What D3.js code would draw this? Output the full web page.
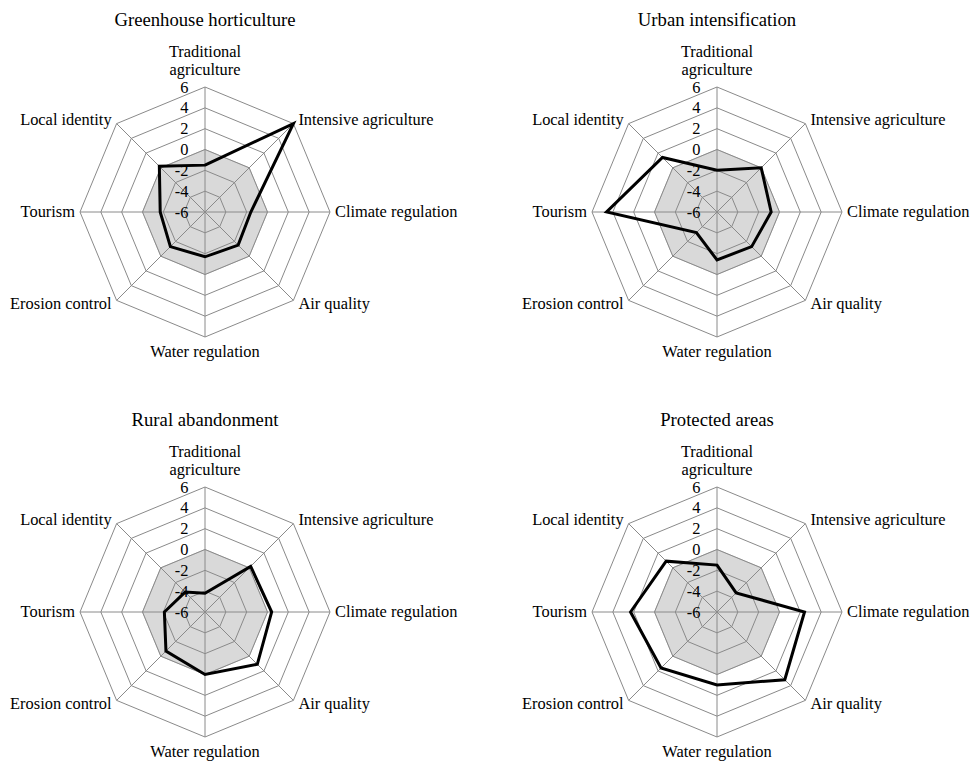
<!DOCTYPE html>
<html>
<head>
<meta charset="utf-8">
<script src="https://cdn.jsdelivr.net/npm/d3@7"></script>
<style>
  html, body { margin: 0; padding: 0; background: #fff; }
  svg { display: block; }
</style>
</head>
<body>
<svg id="chart" width="971" height="761"></svg>
<script>
// Ecosystem service axes, clockwise from the top
const axes = [
  "Traditional agriculture", "Intensive agriculture", "Climate regulation", "Air quality",
  "Water regulation", "Erosion control", "Tourism", "Local identity"
];
const scenarios = ["Greenhouse horticulture", "Urban intensification", "Rural abandonment", "Protected areas"];

// Scenario scores per axis (same order as axes)
const greenhouse     = [-1.5, 6.0, -1.6, -1.5, -1.7, -1.3, -1.7, 0.2];
const urban          = [-2.0, 0.0, -0.8, -1.3, -1.4, -3.2, 4.6, 1.4];
const rural          = [-4.2, 0.2, 0.4, 1.1, 0.0, -0.7, -2.1, -3.3];
const protectedAreas = [-1.5, -3.4, 2.4, 3.2, 1.0, 1.6, 2.3, 0.9];
// Reference (current state) shown as the grey area
const reference      = [0, 0, 0, 0, 0, 0, 0, 0];

const tickValues = [-6, -4, -2, 0, 2, 4, 6];

const seriesList = [greenhouse, urban, rural, protectedAreas];
const centers = [[205, 212], [717, 212], [205, 612], [717, 612]];
const R = 125;
const FONT = "'Times New Roman', 'Liberation Serif', 'DejaVu Serif', serif";
const LABEL_SIZE = 16.4;

const svg = d3.select("#chart").attr("font-family", FONT);
const r = d3.scaleLinear().domain([-6, 6]).range([0, R]);
const angle = d3.scalePoint().domain(d3.range(axes.length)).range([0, 2 * Math.PI * (axes.length - 1) / axes.length]);

const radial = d3.lineRadial()
  .angle((d, i) => angle(i))
  .radius(d => r(d))
  .curve(d3.curveLinearClosed);

scenarios.forEach((name, k) => {
  const [cx, cy] = centers[k];
  const g = svg.append("g").attr("transform", `translate(${cx},${cy})`);

  // Title
  svg.append("text")
    .attr("x", cx).attr("y", cy - 186)
    .attr("text-anchor", "middle")
    .attr("font-family", FONT)
    .attr("font-size", 18.7)
    .text(name);

  // Grey reference area
  g.append("path")
    .datum(reference)
    .attr("d", radial)
    .attr("fill", "#d9d9d9")
    .attr("stroke", "#c6c6c6")
    .attr("stroke-width", 1);

  // Ring gridlines
  tickValues.filter(v => v > -6).forEach(v => {
    g.append("path")
      .datum(axes.map(() => v))
      .attr("d", radial)
      .attr("fill", "none")
      .attr("stroke", "#8a8a8a")
      .attr("stroke-width", 1);
  });

  // Spokes
  axes.forEach((a, i) => {
    const th = angle(i);
    g.append("line")
      .attr("x1", 0).attr("y1", 0)
      .attr("x2", R * Math.sin(th)).attr("y2", -R * Math.cos(th))
      .attr("stroke", "#8a8a8a")
      .attr("stroke-width", 1);
  });

  // Tick labels along the vertical axis
  g.selectAll(".tick")
    .data(tickValues)
    .join("text")
    .attr("class", "tick")
    .attr("x", -16.5)
    .attr("y", d => -r(d) + 5.5)
    .attr("text-anchor", "end")
    .attr("font-family", FONT)
    .attr("font-size", LABEL_SIZE)
    .text(d => d);

  // Axis labels
  axes.forEach((a, i) => {
    const th = angle(i);
    const sx = Math.sin(th), cyc = Math.cos(th);
    const vx = R * sx, vy = -R * cyc;
    const t = g.append("text").attr("font-family", FONT).attr("font-size", LABEL_SIZE);
    if (Math.abs(sx) < 1e-6) {
      t.attr("text-anchor", "middle");
      if (cyc > 0) {
        const words = a.split(" ");
        t.selectAll("tspan").data(words).join("tspan")
          .attr("x", 0)
          .attr("y", (d, j) => vy - 12 - (words.length - 1 - j) * 18)
          .text(d => d);
      } else {
        t.attr("x", 0).attr("y", vy + 20).text(a);
      }
    } else {
      t.attr("text-anchor", sx > 0 ? "start" : "end")
        .attr("x", vx + (sx > 0 ? 5 : -5))
        .attr("y", vy + 5 - 4.6 * cyc)
        .text(a);
    }
  });

  // Scenario line
  g.append("path")
    .datum(seriesList[k])
    .attr("d", radial)
    .attr("fill", "none")
    .attr("stroke", "#000")
    .attr("stroke-width", 3)
    .attr("stroke-linejoin", "miter");
});
</script>
</body>
</html>
